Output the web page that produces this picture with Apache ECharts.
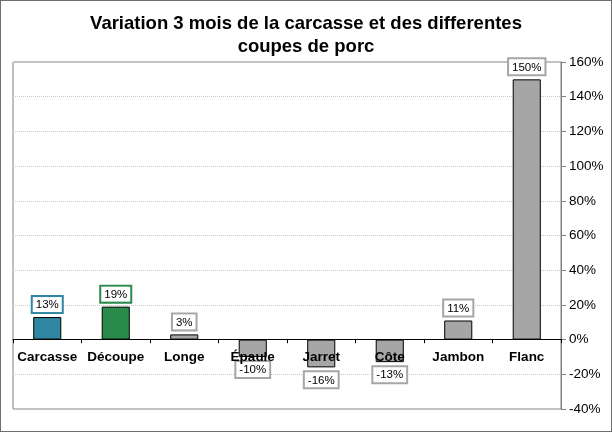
<!DOCTYPE html>
<html><head><meta charset="utf-8">
<script src="https://cdn.jsdelivr.net/npm/echarts@6/dist/echarts.min.js"></script>
<style>html,body{margin:0;padding:0;background:#fff}#c{width:612px;height:432px;box-sizing:border-box;border:1px solid #6e6e6e}</style>
</head><body><div id="c"></div>
<script>
const categories = ['Carcasse','Découpe','Longe','Épaule','Jarret','Côte','Jambon','Flanc'];
const values = [13, 19, 3, -10, -16, -13, 11, 150];
const barColors = ['#2F86A0','#2A8A4C','#A6A6A6','#A6A6A6','#A6A6A6','#A6A6A6','#A6A6A6','#A6A6A6'];
const labelBorders = ['#2F86A0','#2A8A4C','#A6A6A6','#A6A6A6','#A6A6A6','#A6A6A6','#A6A6A6','#A6A6A6'];
const yTicks = {min: -40, max: 160, interval: 20};

const gridTop = 61, gridBottom = 22, H = 432;
const gridH = H - gridTop - gridBottom;
const zeroOffset = -((0 - yTicks.min) / (yTicks.max - yTicks.min)) * gridH;

const chart = echarts.init(document.getElementById('c'), null, {renderer: 'canvas'});
const data = values.map((v, i) => ({
  value: v,
  itemStyle: {color: barColors[i], borderColor: '#000', borderWidth: 1},
  label: {position: v >= 0 ? 'top' : 'bottom', borderColor: labelBorders[i]}
}));
chart.setOption({
  animation: false,
  textStyle: {fontFamily: 'Liberation Sans, Arial, sans-serif'},
  title: {
    text: 'Variation 3 mois de la carcasse et des differentes\ncoupes de porc',
    left: 'center', top: 6,
    textStyle: {fontSize: 18.5, fontWeight: 'bold', color: '#000', lineHeight: 23, fontFamily: 'Liberation Sans, Arial, sans-serif'}
  },
  grid: {left: 12, right: 50, top: gridTop, bottom: gridBottom, show: true, borderColor: '#808080', borderWidth: 1, containLabel: false},
  xAxis: {
    type: 'category', data: categories, z: 5, offset: zeroOffset,
    axisLine: {onZero: false, lineStyle: {color: '#000', width: 1}},
    axisTick: {show: true, inside: false, length: 4, lineStyle: {color: '#000'}},
    axisLabel: {color: '#000', fontWeight: 'bold', fontSize: 13.5, margin: 11, interval: 0}
  },
  yAxis: {
    type: 'value', position: 'right', min: yTicks.min, max: yTicks.max, interval: yTicks.interval,
    axisLine: {show: true, lineStyle: {color: '#808080'}},
    axisTick: {show: true, inside: false, length: 5, lineStyle: {color: '#808080'}},
    axisLabel: {color: '#000', fontSize: 13.5, margin: 8, formatter: '{value}%'},
    splitLine: {show: true, lineStyle: {color: '#c8c8c8', type: 'dotted'}}
  },
  series: [{
    type: 'bar', data: data, barWidth: '41%', z: 2,
    label: {
      show: true, formatter: '{c}%', color: '#000', fontSize: 11.5,
      backgroundColor: '#fff', borderWidth: 2, padding: [2, 3, 1, 3], distance: 5
    }
  }]
});
</script></body></html>
